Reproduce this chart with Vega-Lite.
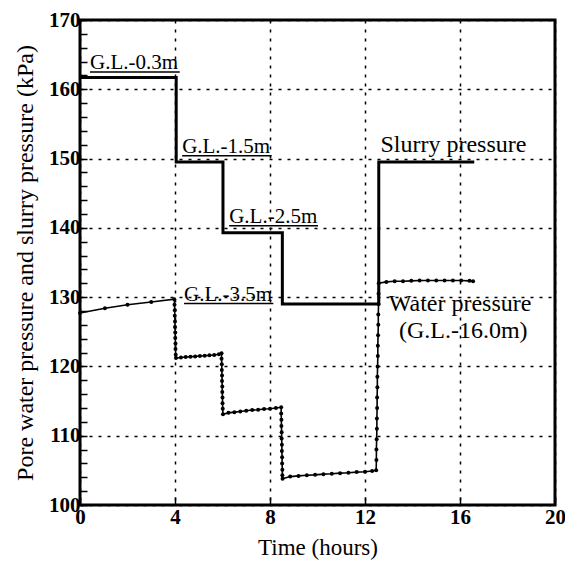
{
  "$schema": "https://vega.github.io/schema/vega-lite/v6.json",
  "width": 475,
  "height": 485,
  "autosize": {"type": "none"},
  "padding": {"left": 80, "top": 20, "right": 10, "bottom": 56},
  "background": "white",
  "config": {
    "view": {"stroke": "black", "strokeWidth": 3},
    "font": "Liberation Serif"
  },
  "datasets": {
    "slurry": [
      {"t": 0, "kPa": 161.7},
      {"t": 4.05, "kPa": 149.5},
      {"t": 6.02, "kPa": 139.3},
      {"t": 8.52, "kPa": 129.0},
      {"t": 12.58, "kPa": 149.5},
      {"t": 16.6, "kPa": 149.5}
    ],
    "water": [
      {"t": 0, "kPa": 127.7}, {"t": 1.05, "kPa": 128.4}, {"t": 2.0, "kPa": 128.9}, {"t": 3.0, "kPa": 129.3}, {"t": 3.97, "kPa": 129.7},
      {"t": 3.98, "kPa": 128.9}, {"t": 3.99, "kPa": 128.1}, {"t": 3.99, "kPa": 127.3}, {"t": 4.0, "kPa": 126.5}, {"t": 4.0, "kPa": 125.7},
      {"t": 4.01, "kPa": 124.9}, {"t": 4.01, "kPa": 124.1}, {"t": 4.02, "kPa": 123.3}, {"t": 4.02, "kPa": 122.5}, {"t": 4.03, "kPa": 121.7}, {"t": 4.04, "kPa": 121.2},
      {"t": 4.25, "kPa": 121.3}, {"t": 4.45, "kPa": 121.35}, {"t": 4.65, "kPa": 121.4}, {"t": 4.85, "kPa": 121.45}, {"t": 5.05, "kPa": 121.5},
      {"t": 5.25, "kPa": 121.55}, {"t": 5.45, "kPa": 121.6}, {"t": 5.65, "kPa": 121.65}, {"t": 5.85, "kPa": 121.75}, {"t": 5.96, "kPa": 121.9},
      {"t": 5.96, "kPa": 121.1}, {"t": 5.97, "kPa": 120.3}, {"t": 5.97, "kPa": 119.5}, {"t": 5.98, "kPa": 118.7}, {"t": 5.98, "kPa": 117.9},
      {"t": 5.99, "kPa": 117.1}, {"t": 5.99, "kPa": 116.3}, {"t": 6.0, "kPa": 115.5}, {"t": 6.0, "kPa": 114.7}, {"t": 6.01, "kPa": 113.9}, {"t": 6.02, "kPa": 113.1},
      {"t": 6.25, "kPa": 113.3}, {"t": 6.5, "kPa": 113.4}, {"t": 6.75, "kPa": 113.5}, {"t": 7.0, "kPa": 113.6}, {"t": 7.25, "kPa": 113.7},
      {"t": 7.5, "kPa": 113.75}, {"t": 7.75, "kPa": 113.85}, {"t": 8.0, "kPa": 113.9}, {"t": 8.25, "kPa": 114.0}, {"t": 8.47, "kPa": 114.1},
      {"t": 8.47, "kPa": 113.2}, {"t": 8.48, "kPa": 112.3}, {"t": 8.48, "kPa": 111.4}, {"t": 8.49, "kPa": 110.5}, {"t": 8.49, "kPa": 109.6},
      {"t": 8.5, "kPa": 108.7}, {"t": 8.5, "kPa": 107.8}, {"t": 8.51, "kPa": 106.9}, {"t": 8.51, "kPa": 106.0}, {"t": 8.52, "kPa": 105.1}, {"t": 8.52, "kPa": 104.3}, {"t": 8.53, "kPa": 103.8},
      {"t": 8.85, "kPa": 104.1}, {"t": 9.2, "kPa": 104.2}, {"t": 9.55, "kPa": 104.3}, {"t": 9.9, "kPa": 104.35}, {"t": 10.25, "kPa": 104.45},
      {"t": 10.6, "kPa": 104.5}, {"t": 10.95, "kPa": 104.6}, {"t": 11.3, "kPa": 104.65}, {"t": 11.65, "kPa": 104.75}, {"t": 12.0, "kPa": 104.8}, {"t": 12.3, "kPa": 104.9}, {"t": 12.47, "kPa": 105.0},
      {"t": 12.48, "kPa": 106.5}, {"t": 12.48, "kPa": 108.0}, {"t": 12.49, "kPa": 109.5}, {"t": 12.5, "kPa": 111.0}, {"t": 12.5, "kPa": 112.5},
      {"t": 12.51, "kPa": 114.0}, {"t": 12.51, "kPa": 115.5}, {"t": 12.52, "kPa": 117.0}, {"t": 12.52, "kPa": 118.5}, {"t": 12.53, "kPa": 120.0},
      {"t": 12.54, "kPa": 121.5}, {"t": 12.54, "kPa": 123.0}, {"t": 12.55, "kPa": 124.5}, {"t": 12.56, "kPa": 126.0}, {"t": 12.56, "kPa": 127.5},
      {"t": 12.57, "kPa": 129.0}, {"t": 12.57, "kPa": 130.5}, {"t": 12.58, "kPa": 132.0},
      {"t": 12.9, "kPa": 132.2}, {"t": 13.25, "kPa": 132.3}, {"t": 13.6, "kPa": 132.3}, {"t": 13.95, "kPa": 132.35}, {"t": 14.3, "kPa": 132.4},
      {"t": 14.65, "kPa": 132.4}, {"t": 15.0, "kPa": 132.4}, {"t": 15.35, "kPa": 132.4}, {"t": 15.7, "kPa": 132.4}, {"t": 16.05, "kPa": 132.4},
      {"t": 16.4, "kPa": 132.35}, {"t": 16.55, "kPa": 132.3}
    ],
    "depthLabels": [
      {"label": "G.L.-0.3m", "t": 0.42, "kPa": 162.9, "t1": 4.2, "line": 162.5},
      {"label": "G.L.-1.5m", "t": 4.3, "kPa": 150.8, "t1": 8.07, "line": 150.4},
      {"label": "G.L.-2.5m", "t": 6.28, "kPa": 140.7, "t1": 10.02, "line": 140.3},
      {"label": "G.L.-3.5m", "t": 4.38, "kPa": 129.5, "t1": 8.14, "line": 129.1}
    ],
    "seriesLabels": [
      {"label": "Slurry pressure", "t": 12.65, "kPa": 150.9},
      {"label": "Water pressure", "t": 13.0, "kPa": 128.0},
      {"label": "(G.L.-16.0m)", "t": 13.43, "kPa": 124.1}
    ]
  },
  "layer": [
    {
      "data": {"name": "slurry"},
      "mark": {"type": "line", "interpolate": "step-after", "color": "black", "strokeWidth": 3},
      "encoding": {
        "x": {
          "field": "t", "type": "quantitative",
          "scale": {"domain": [0, 20], "nice": false},
          "axis": {
            "values": [0, 4, 8, 12, 16, 20],
            "tickCount": 50,
            "format": "d",
            "title": "Time (hours)",
            "titleFont": "Liberation Serif", "titleFontSize": 23, "titleFontWeight": "normal", "titleColor": "black", "titlePadding": 9,
            "labelFont": "Liberation Sans Narrow", "labelFontSize": 21, "labelFontWeight": "bold", "labelColor": "black", "labelPadding": 9,
            "labelFlush": false, "labelOverlap": false,
            "domain": false,
            "tickSize": -8, "tickColor": "black", "tickWidth": 1.5,
            "grid": true, "gridColor": "black", "gridDash": [3, 6], "gridWidth": 1.5, "gridOpacity": 1
          }
        },
        "y": {
          "field": "kPa", "type": "quantitative",
          "scale": {"domain": [100, 170], "nice": false, "zero": false},
          "axis": {
            "values": [100, 102, 104, 106, 108, 110, 112, 114, 116, 118, 120, 122, 124, 126, 128, 130, 132, 134, 136, 138, 140, 142, 144, 146, 148, 150, 152, 154, 156, 158, 160, 162, 164, 166, 168, 170],
            "tickCount": 100,
            "format": "d",
            "labelExpr": "datum.value % 10 === 0 ? datum.label : ''",
            "title": "Pore water pressure and slurry pressure (kPa)",
            "titleFont": "Liberation Serif", "titleFontSize": 24, "titleFontWeight": "normal", "titleColor": "black", "titlePadding": 11,
            "labelFont": "Liberation Sans Narrow", "labelFontSize": 21, "labelFontWeight": "bold", "labelColor": "black", "labelPadding": 7,
            "labelFlush": false, "labelOverlap": false,
            "domain": false,
            "tickSize": -7, "tickColor": "black", "tickWidth": 1.5,
            "grid": true, "gridColor": "black", "gridDash": [3, 6], "gridWidth": 1.5,
            "gridOpacity": {"condition": {"test": "datum.value % 10 === 0", "value": 1}, "value": 0}
          }
        }
      }
    },
    {
      "data": {"name": "water"},
      "mark": {"type": "line", "color": "black", "strokeWidth": 1.6, "point": {"filled": true, "size": 16, "color": "black"}},
      "encoding": {
        "x": {"field": "t", "type": "quantitative"},
        "y": {"field": "kPa", "type": "quantitative"},
        "order": {"value": null}
      }
    },
    {
      "data": {"name": "depthLabels"},
      "mark": {"type": "text", "align": "left", "baseline": "alphabetic", "font": "Liberation Serif", "fontSize": 21, "color": "black"},
      "encoding": {
        "x": {"field": "t", "type": "quantitative"},
        "y": {"field": "kPa", "type": "quantitative"},
        "text": {"field": "label"}
      }
    },
    {
      "data": {"name": "depthLabels"},
      "mark": {"type": "rule", "color": "black", "strokeWidth": 1.5},
      "encoding": {
        "x": {"field": "t", "type": "quantitative"},
        "x2": {"field": "t1"},
        "y": {"field": "line", "type": "quantitative"}
      }
    },
    {
      "data": {"name": "seriesLabels"},
      "mark": {"type": "text", "align": "left", "baseline": "alphabetic", "font": "Liberation Serif", "fontSize": 24, "color": "black"},
      "encoding": {
        "x": {"field": "t", "type": "quantitative"},
        "y": {"field": "kPa", "type": "quantitative"},
        "text": {"field": "label"}
      }
    }
  ]
}
